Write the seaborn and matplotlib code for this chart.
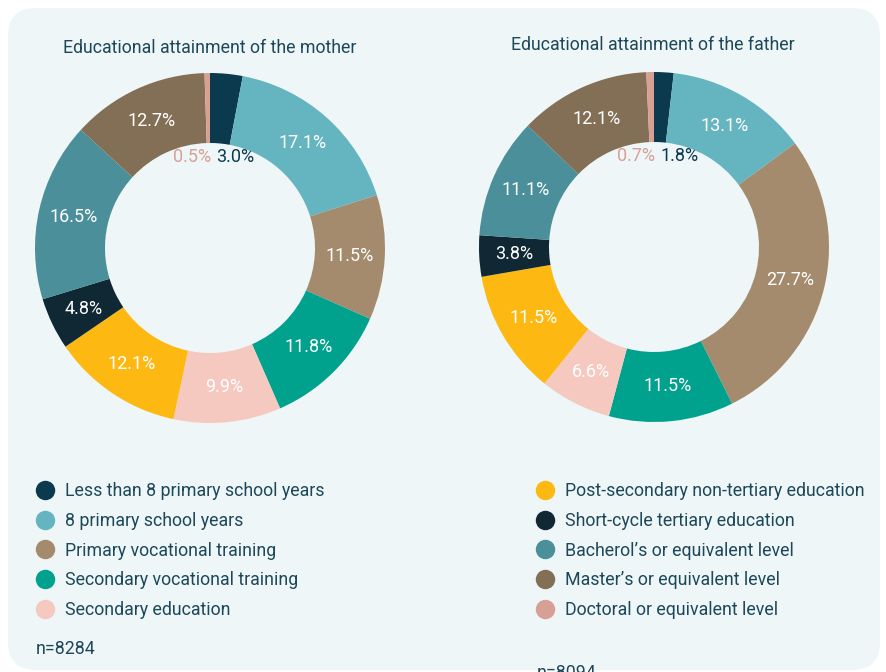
import matplotlib
matplotlib.use("Agg")
import matplotlib.pyplot as plt
from matplotlib.patches import FancyBboxPatch
from matplotlib.lines import Line2D
import seaborn as sns
import numpy as np

categories = [
    "Less than 8 primary school years",
    "8 primary school years",
    "Primary vocational training",
    "Secondary vocational training",
    "Secondary education",
    "Post-secondary non-tertiary education",
    "Short-cycle tertiary education",
    "Bacherol\u2019s or equivalent level",
    "Master\u2019s or equivalent level",
    "Doctoral or equivalent level",
]
mother = [3.0, 17.1, 11.5, 11.8, 9.9, 12.1, 4.8, 16.5, 12.7, 0.5]
father = [1.8, 13.1, 27.7, 11.5, 6.6, 11.5, 3.8, 11.1, 12.1, 0.7]
titles = ["Educational attainment of the mother", "Educational attainment of the father"]
sample_sizes = ["n=8284", "n=8094"]

palette = sns.color_palette([
    "#0b3a4f", "#65b5c1", "#a48b6e", "#00a18d", "#f5c9bf",
    "#fdb912", "#0f2833", "#4a8f99", "#836f55", "#d8a095",
])

sns.set_style("white")
plt.rcParams["font.family"] = ["Roboto", "DejaVu Sans"]
TXT = "#1d4859"
FS = 12.8

fig = plt.figure(figsize=(8.86, 6.72), dpi=100)

# panel background
bg = fig.add_axes([0, 0, 1, 1])
bg.set_xlim(0, 886)
bg.set_ylim(672, 0)
bg.axis("off")
bg.add_patch(FancyBboxPatch((8, 8), 872, 662, boxstyle="round,pad=0,rounding_size=28",
                            fc="#eef6f8", ec="none"))


def donut(rect, values, title, title_xy):
    ax = fig.add_axes(rect)
    labels = [f"{v:.1f}%" for v in values]
    wedges, texts = ax.pie(values, colors=palette, startangle=90, counterclock=False,
                           labels=labels, labeldistance=0.8,
                           wedgeprops=dict(width=0.4, linewidth=0),
                           textprops=dict(color="white", fontsize=13))
    for t in texts:
        t.set_ha("center")
        t.set_va("center")
    # small slices: put labels inside the hole, in the slice colour
    texts[-1].set_position((0.005, 0.52))
    texts[-1].set_ha("right")
    texts[-1].set_color(palette[-1])
    texts[0].set_position((0.035, 0.52))
    texts[0].set_ha("left")
    texts[0].set_color(palette[0])
    ax.set_xlim(-1, 1)
    ax.set_ylim(-1, 1)
    ax.set_aspect("equal")
    fig.text(title_xy[0] / 886, 1 - title_xy[1] / 672, title, ha="center", va="center",
             fontsize=FS, color=TXT)
    return ax


donut([35 / 886, 249 / 672, 350 / 886, 350 / 672], mother, titles[0], (210, 48))
donut([479 / 886, 250 / 672, 350 / 886, 350 / 672], father, titles[1], (653, 45))

handles = [Line2D([], [], marker="o", ls="", markersize=14, color=c, markeredgewidth=0)
           for c in palette]
leg_kw = dict(loc="upper left", frameon=False, fontsize=FS, labelcolor=TXT,
              handletextpad=0.52, labelspacing=0.66, handlelength=1.2,
              borderaxespad=0, borderpad=0.4)
fig.legend(handles[:5], categories[:5], bbox_to_anchor=(27 / 886, 1 - 475 / 672), **leg_kw)
fig.legend(handles[5:], categories[5:], bbox_to_anchor=(527 / 886, 1 - 475 / 672), **leg_kw)

fig.text(36 / 886, 1 - 649 / 672, sample_sizes[0], ha="left", va="center", fontsize=FS, color=TXT)
fig.text(537 / 886, 1 - 664 / 672, sample_sizes[1], ha="left", va="top", fontsize=FS, color=TXT)

fig.savefig("out.png", dpi=100)
